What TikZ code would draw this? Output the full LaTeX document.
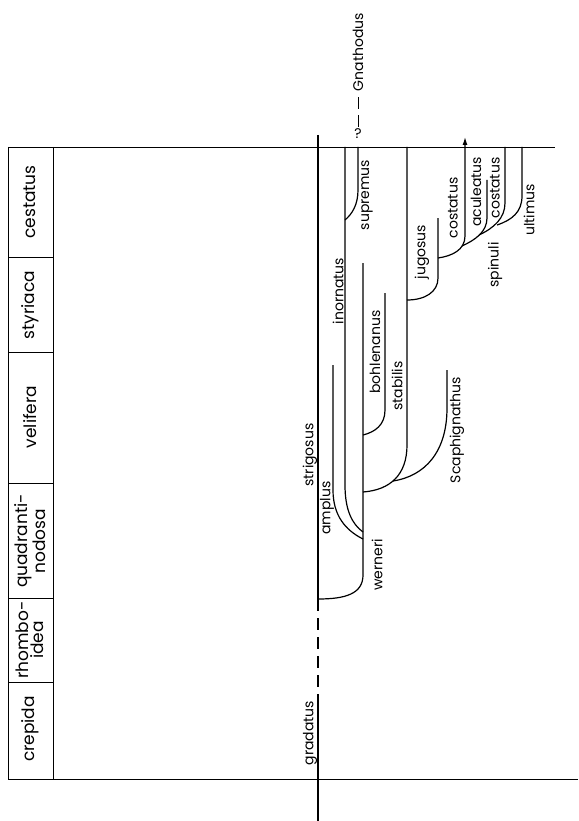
\documentclass[tikz,border=0pt]{standalone}
\usepackage{fontspec}
\setmainfont{Poppins}
\usetikzlibrary{arrows.meta}
\begin{document}
\begin{tikzpicture}[x=1pt,y=-1pt,
  lin/.style={line width=1.2pt},
  tab/.style={line width=0.8pt},
  dashln/.style={line width=1.2pt,dash pattern=on 12pt off 7pt},
  lab/.style={rotate=90,font=\fontsize{14}{14}\selectfont,inner sep=0pt},
  zone/.style={rotate=90,font=\fontsize{17}{15}\selectfont,inner sep=0pt,align=center}]
\useasboundingbox (0,0) rectangle (578,821);
% ---------- table ----------
\coordinate (tl) at (8,147);
\coordinate (tr) at (555,147);
\coordinate (bl) at (8,779);
\coordinate (br) at (578,779);
\coordinate (cl) at (53,147);
\coordinate (cb) at (53,779);
\draw[tab] (tl) -- (tr);
\draw[tab] (bl) -- (br);
\draw[tab] (tl) -- (bl);
\draw[tab] (cl) -- (cb);
\foreach \yy in {257,352,483,598,682} \draw[tab] (8,\yy) -- (53,\yy);
\node[zone] (z1) at (30,202) {cestatus};
\node[zone] (z2) at (30,305) {styriaca};
\node[zone] (z3) at (30,417) {velifera};
\node[zone] (z4) at (30,541) {quadranti-\\nodosa};
\node[zone] (z5) at (30,640) {rhombo-\\idea};
\node[zone] (z6) at (30,729) {crepida};
% ---------- main axis ----------
\coordinate (sTop) at (318,135);
\coordinate (wB) at (318,599);
\coordinate (gD) at (318,698);
\coordinate (sBot) at (318,821);
\draw[lin] (sTop) -- (wB);
\draw[dashln] (wB) -- (gD);
\draw[lin] (gD) -- (sBot);
% werneri
\coordinate (wTop) at (363,263);
\draw[lin] (wB) .. controls (345,599) and (363,594) .. (363,575) -- (wTop);
% amplus
\coordinate (aTop) at (333,365);
\draw[lin] (aTop) -- (333,490) .. controls (333,515) and (345,530) .. (363,539);
% inornatus
\coordinate (iTop) at (345,147);
\draw[lin] (iTop) -- (345,485) .. controls (345,510) and (352,524) .. (363,532);
% supremus
\coordinate (suTop) at (358,147);
\draw[lin] (345,220) .. controls (352,214) and (358,205) .. (358,190) -- (suTop);
% bohlenanus
\coordinate (bTop) at (385,293);
\draw[lin] (bTop) -- (385,410) .. controls (385,425) and (375,432) .. (363,435);
% stabilis
\coordinate (stTop) at (407,147);
\draw[lin] (stTop) -- (407,445) .. controls (407,475) and (390,490) .. (363,492);
% Scaphignathus
\coordinate (scTop) at (447,370);
\draw[lin] (393,481) .. controls (425,476) and (447,452) .. (447,408) -- (scTop);
% jugosus
\coordinate (jTop) at (438,218);
\draw[lin] (407,300) .. controls (425,300) and (438,292) .. (438,278) -- (jTop);
% costatus (arrow)
\coordinate (cTop) at (465,137);
\draw[lin,-{Latex[length=8pt,width=5pt]}] (438,258) .. controls (452,256) and (465,250) .. (465,236) -- (cTop);
% aculeatus line
\coordinate (acTop) at (487,180);
\draw[lin] (acTop) -- (487,218) .. controls (487,232) and (475,240) .. (462,246);
% costatus 2
\coordinate (c2Top) at (505,147);
\draw[lin] (c2Top) -- (505,203) .. controls (505,218) and (494,228) .. (479,235);
% ultimus
\coordinate (uTop) at (522,147);
\draw[lin] (uTop) -- (522,196) .. controls (522,212) and (512,220) .. (497,225);
% ---------- labels ----------
\node[lab] (Lstrig) at (310,455) {strigosus};
\node[lab] (Lampl) at (327,508) {amplus};
\node[lab] (Linorn) at (338,291) {inornatus};
\node[lab] (Lsupr) at (367,195) {supremus};
\node[lab] (Lbohl) at (375,352) {bohlenanus};
\node[lab] (Lstab) at (397,386) {stabilis};
\node[lab] (Lwern) at (377,565) {werneri};
\node[lab] (Lscap) at (457,430) {Scaphignathus};
\node[lab] (Ljugo) at (422,252) {jugosus};
\node[lab] (Lcost) at (453,208) {costatus};
\node[lab] (Lacul) at (476,192) {aculeatus};
\node[lab] (Lcos2) at (495,188) {costatus};
\node[lab] (Lspin) at (495,265) {spinuli};
\node[lab] (Lulti) at (529,210) {ultimus};
\node[lab] (Lgrad) at (310,733) {gradatus};
% Gnathodus
\node[lab] (Lgna) at (358,52) {Gnathodus};
\node[font=\fontsize{14}{14}\selectfont,inner sep=0pt] (q) at (358,134) {?};
\coordinate (gd1) at (358,127);
\coordinate (gd2) at (358,96);
\draw[line width=0.9pt,dash pattern=on 12pt off 6pt] (gd1) -- (gd2);
\end{tikzpicture}
\end{document}
